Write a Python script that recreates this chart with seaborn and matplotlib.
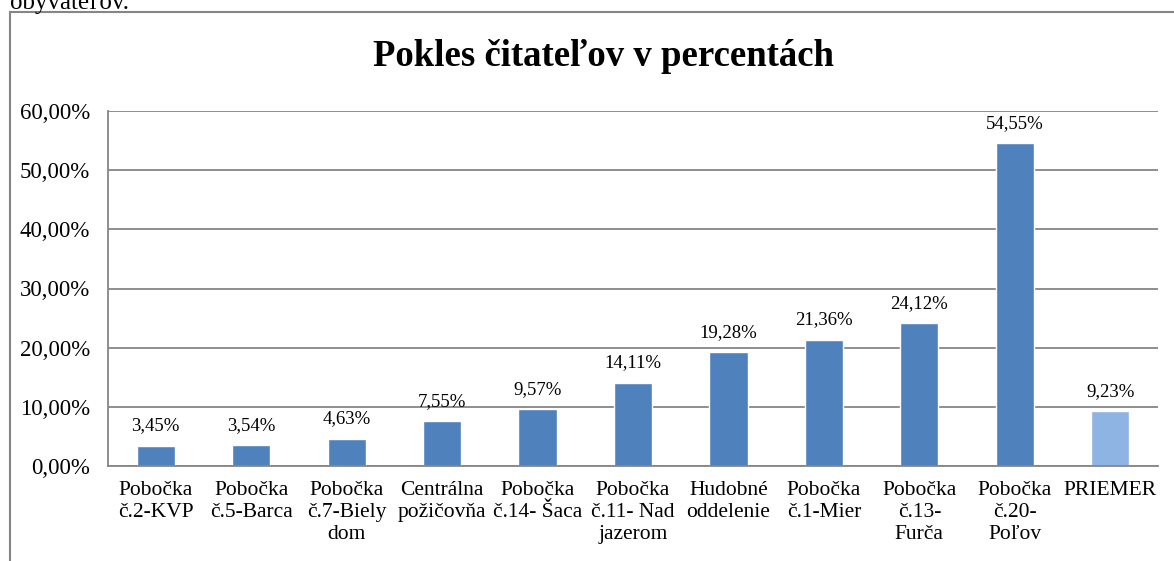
import seaborn as sns
import pandas as pd
import matplotlib.pyplot as plt
import numpy as np
from matplotlib.patches import Rectangle

categories = ["Pobočka\nč.2-KVP", "Pobočka\nč.5-Barca", "Pobočka\nč.7-Biely\ndom",
              "Centrálna\npožičovňa", "Pobočka\nč.14- Šaca", "Pobočka\nč.11- Nad\njazerom",
              "Hudobné\noddelenie", "Pobočka\nč.1-Mier", "Pobočka\nč.13-\nFurča",
              "Pobočka\nč.20-\nPoľov", "PRIEMER"]
values = [3.45, 3.54, 4.63, 7.55, 9.57, 14.11, 19.28, 21.36, 24.12, 54.55, 9.23]
kind = ["branch"] * 10 + ["average"]
yticks = [0, 10, 20, 30, 40, 50, 60]

sns.set_style("white")
plt.rcParams['font.family'] = ['Liberation Serif', 'DejaVu Serif']
plt.rcParams['text.color'] = 'black'
plt.rcParams['xtick.labelcolor'] = 'black'
plt.rcParams['ytick.labelcolor'] = 'black'

df = pd.DataFrame({"cat": categories, "val": values, "kind": kind})
grid_col = "#868686"

fig = plt.figure(figsize=(11.74, 5.61), dpi=100)
ax = fig.add_axes([108 / 1174, 1 - 466 / 561, (1158 - 108) / 1174, (466 - 111) / 561])

sns.barplot(data=df, x="cat", y="val", hue="kind", palette={"branch": "#4F81BD", "average": "#8EB4E3"},
            width=0.4, dodge=False, legend=False, ax=ax, saturation=1)

ax.set_ylim(0, 60)
ax.set_xlim(-0.5, len(categories) - 0.5)
ax.set_yticks(yticks)
ax.set_yticklabels([f"{v:.2f}".replace(".", ",") + "%" for v in yticks], fontsize=16.5)
ax.yaxis.grid(True, color=grid_col, lw=1.3)
ax.set_axisbelow(True)
ax.set_xlabel("")
ax.set_ylabel("")

# category boundary ticks
ax.set_xticks(np.arange(len(categories)))
ax.set_xticklabels(categories, fontsize=15.5, linespacing=1.2)
ax.set_xticks(np.arange(-0.5, len(categories)), minor=True)
ax.tick_params(axis="x", which="major", length=0, pad=11)
ax.tick_params(axis="x", which="minor", length=6, color=grid_col, width=1.3, direction="out")
ax.tick_params(axis="y", length=5, color=grid_col, width=1.3, direction="out", pad=8)

for s in ["top", "right"]:
    ax.spines[s].set_visible(False)
for s in ["left", "bottom"]:
    ax.spines[s].set_color(grid_col)
    ax.spines[s].set_linewidth(1.3)

for i, v in enumerate(values):
    ax.annotate(f"{v:.2f}".replace(".", ",") + "%", (i, v), xytext=(0, 8),
                textcoords="offset points", ha="center", va="bottom", fontsize=13.5)

fig.text(603 / 1174, 1 - 57 / 561, "Pokles čitateľov v percentách", ha="center", va="center",
         fontsize=26.5, fontweight="bold")

# surrounding document text and chart frame
fig.text(10 / 1174, 1 - 9 / 561, "obyvateľov.", ha="left", va="baseline", fontsize=18)
fig.patches.append(Rectangle((10 / 1174, -0.2), 1.2, 1.2 - 12 / 561, transform=fig.transFigure,
                             fill=False, edgecolor=grid_col, lw=1.5))

fig.savefig("out.png", dpi=100)
